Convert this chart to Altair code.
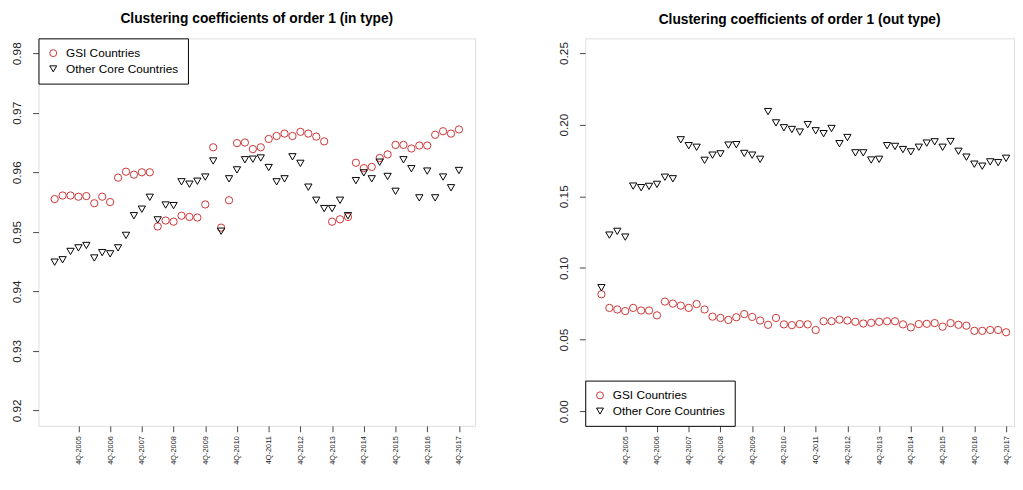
import json
import altair as alt
import pandas as pd

series_names = ["GSI Countries", "Other Core Countries"]
tick_labels = ["4Q-2005", "4Q-2006", "4Q-2007", "4Q-2008", "4Q-2009", "4Q-2010", "4Q-2011",
               "4Q-2012", "4Q-2013", "4Q-2014", "4Q-2015", "4Q-2016", "4Q-2017"]
tick_positions = [3, 7, 11, 15, 19, 23, 27, 31, 35, 39, 43, 47, 51]

gsi_in = [0.9555, 0.9561, 0.9561, 0.9559, 0.9560, 0.9548, 0.9559, 0.9550, 0.9591, 0.9601, 0.9596, 0.9600, 0.9600,
          0.9509, 0.9519, 0.9517, 0.9527, 0.9525, 0.9524, 0.9546, 0.9642, 0.9507, 0.9553, 0.9649, 0.9650, 0.9639,
          0.9642, 0.9656, 0.9661, 0.9665, 0.9661, 0.9668, 0.9665, 0.9660, 0.9652, 0.9517, 0.9521, 0.9525, 0.9616,
          0.9607, 0.9609, 0.9624, 0.9630, 0.9646, 0.9646, 0.9640, 0.9645, 0.9645, 0.9663, 0.9669, 0.9665, 0.9672]
other_in = [0.9449, 0.9453, 0.9467, 0.9473, 0.9477, 0.9456, 0.9465, 0.9463, 0.9473, 0.9494, 0.9527, 0.9538, 0.9558,
            0.9520, 0.9545, 0.9544, 0.9584, 0.9580, 0.9585, 0.9592, 0.9619, 0.9501, 0.9589, 0.9604, 0.9621, 0.9622,
            0.9624, 0.9608, 0.9584, 0.9589, 0.9626, 0.9615, 0.9575, 0.9553, 0.9539, 0.9539, 0.9553, 0.9527, 0.9586,
            0.9599, 0.9589, 0.9617, 0.9593, 0.9568, 0.9621, 0.9606, 0.9557, 0.9602, 0.9557, 0.9592, 0.9574, 0.9603]
gsi_out = [0.0816, 0.0721, 0.0710, 0.0699, 0.0721, 0.0703, 0.0703, 0.0669, 0.0765, 0.0751, 0.0737, 0.0721, 0.0748,
           0.0710, 0.0660, 0.0651, 0.0637, 0.0656, 0.0678, 0.0658, 0.0633, 0.0603, 0.0651, 0.0606, 0.0601, 0.0608,
           0.0606, 0.0567, 0.0628, 0.0628, 0.0639, 0.0633, 0.0624, 0.0612, 0.0617, 0.0624, 0.0628, 0.0628, 0.0606,
           0.0585, 0.0608, 0.0610, 0.0615, 0.0590, 0.0615, 0.0603, 0.0597, 0.0561, 0.0561, 0.0567, 0.0567, 0.0551]
other_out = [0.0862, 0.1229, 0.1255, 0.1215, 0.1571, 0.1560, 0.1569, 0.1583, 0.1633, 0.1622, 0.1894, 0.1853, 0.1842,
             0.1751, 0.1787, 0.1796, 0.1857, 0.1860, 0.1799, 0.1787, 0.1758, 0.2091, 0.2012, 0.1978, 0.1966, 0.1948,
             0.2000, 0.1957, 0.1937, 0.1973, 0.1867, 0.1910, 0.1803, 0.1803, 0.1753, 0.1758, 0.1853, 0.1848, 0.1826,
             0.1810, 0.1842, 0.1871, 0.1880, 0.1842, 0.1882, 0.1814, 0.1773, 0.1724, 0.1710, 0.1740, 0.1735, 0.1765]

FONT = "Liberation Sans"


def make_df(a, b):
    rows = []
    for i, v in enumerate(a):
        rows.append({"t": i, "value": v, "series": series_names[0]})
    for i, v in enumerate(b):
        rows.append({"t": i, "value": v, "series": series_names[1]})
    return pd.DataFrame(rows)


label_expr = json.dumps(tick_labels) + "[(datum.value - 3) / 4]"


def panel(df, title, xdom, width, ydom, yvals, yfmt, legend_orient):
    legend = alt.Legend(orient=legend_orient, offset=0, title=None, strokeColor="black",
                        fillColor="white", padding=9, rowPadding=4, labelFontSize=12,
                        labelFont=FONT, labelColor="black", symbolSize=50, labelOffset=7,
                        symbolStrokeWidth=1, cornerRadius=0)
    return alt.Chart(df).mark_point(filled=False, size=55, strokeWidth=1, opacity=1).encode(
        x=alt.X("t:Q", scale=alt.Scale(domain=xdom, nice=False, zero=False),
                axis=alt.Axis(values=tick_positions, labelExpr=label_expr, labelAngle=270,
                              labelAlign="right", labelBaseline="middle", labelFontSize=7.5,
                              labelPadding=4, tickSize=6, title=None, domain=False, grid=False,
                              labelFont=FONT, labelColor="#222", tickColor="#444")),
        y=alt.Y("value:Q", scale=alt.Scale(domain=ydom, nice=False, zero=False),
                axis=alt.Axis(values=yvals, format=yfmt, labelAngle=270, labelAlign="center",
                              labelBaseline="bottom", labelFontSize=12, labelPadding=9,
                              tickSize=6, title=None, domain=False, grid=False,
                              labelFont=FONT, labelColor="#222", tickColor="#444",
                              minExtent=30, maxExtent=30)),
        color=alt.Color("series:N", scale=alt.Scale(domain=series_names, range=["#cd3333", "#000000"]),
                        legend=legend),
        shape=alt.Shape("series:N", scale=alt.Scale(domain=series_names, range=["circle", "triangle-down"]),
                        legend=legend),
        order=alt.Order("t:Q"),
    ).properties(
        width=width, height=394,
        title=alt.TitleParams(title, fontSize=14, fontWeight="bold", font=FONT, anchor="middle",
                              offset=12, color="black"),
    )


left = panel(make_df(gsi_in, other_in), "Clustering coefficients of order 1 (in type)",
             [-2.04, 53.04], 444, [0.9174, 0.9825],
             [0.92, 0.93, 0.94, 0.95, 0.96, 0.97, 0.98], ".2f", "top-left")
right = panel(make_df(gsi_out, other_out), "Clustering coefficients of order 1 (out type)",
              [-2.04, 52.0], 436, [-0.0102, 0.2602],
              [0.0, 0.05, 0.10, 0.15, 0.20, 0.25], ".2f", "bottom-left")

chart = alt.hconcat(left, right, spacing=80).properties(
    padding={"left": 0, "top": 0, "right": 0, "bottom": 0}
).configure_view(stroke="black", strokeWidth=1).configure(background="white")

chart.save("out.html", embed_options={"renderer": "svg", "actions": False})
